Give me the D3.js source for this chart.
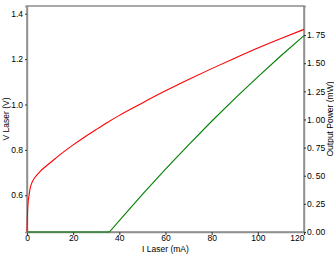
<!DOCTYPE html>
<html>
<head>
<meta charset="utf-8">
<script src="https://cdn.jsdelivr.net/npm/d3@7"></script>
<style>
body{margin:0;background:#fff;}
text{font-family:"Liberation Sans",Arial,sans-serif;font-size:8.5px;fill:#000;}
</style>
</head>
<body>
<svg id="chart" width="334" height="254"></svg>
<script>
// 电流 (mA) 与电压 (V)
var current=[0,0.15,0.4,0.9,1.3,2,3.5,5.7,8.7,12.3,16,20,25,30,35,40,50,60,70,80,90,100,110,120];
var voltage=[0.44,0.50,0.56,0.60,0.627,0.652,0.679,0.705,0.732,0.762,0.792,0.822,0.857,0.890,0.922,0.952,1.007,1.060,1.110,1.158,1.204,1.249,1.291,1.331];
// 电流 (mA) 与输出功率 (mW)
var currentP=[0,35.7,40,50,60,70,80,90,100,110,120];
var power=[0,0,0.102,0.334,0.558,0.775,0.984,1.185,1.379,1.566,1.745];

var xTicks=[0,20,40,60,80,100,120];
var vTicks=[0.6,0.8,1.0,1.2,1.4];
var pTicks=[0,0.25,0.5,0.75,1.0,1.25,1.5,1.75];

var svg=d3.select("#chart");
var p_left=27,p_right=304,p_top=6,p_bottom=232;

var scale_x=d3.scaleLinear().domain([0,120]).range([p_left,p_right]);
var scale_v=d3.scaleLinear().domain([0.438,1.434]).range([p_bottom,p_top]);
var scale_p=d3.scaleLinear().domain([0,2.008]).range([p_bottom,p_top]);

// 边框
svg.append("rect")
    .attr("x",p_left).attr("y",p_top)
    .attr("width",p_right-p_left).attr("height",p_bottom-p_top)
    .attr("fill","none").attr("stroke","#707070").attr("stroke-width",1.2);

// 坐标轴
var xAxis=svg.append("g").attr("transform","translate(0,"+p_bottom+")")
    .call(d3.axisBottom(scale_x).tickValues(xTicks).tickSize(3).tickPadding(1).tickFormat(d3.format("d")));
var vAxis=svg.append("g").attr("transform","translate("+p_left+",0)")
    .call(d3.axisLeft(scale_v).tickValues(vTicks).tickSize(2).tickPadding(2).tickFormat(d3.format(".1f")));
var pAxis=svg.append("g").attr("transform","translate("+p_right+",0)")
    .call(d3.axisRight(scale_p).tickValues(pTicks).tickSize(2).tickPadding(1).tickFormat(function(d){return d3.format(".2f")(d).replace(".",".\u2009");}));

[xAxis,vAxis,pAxis].forEach(function(a){
    a.select(".domain").attr("stroke","#909090").attr("stroke-width",1.4);
    a.selectAll(".tick line").attr("stroke","#333");
    a.selectAll("text").attr("font-family",null).attr("font-size",null).attr("fill","#000");
});
xAxis.selectAll("text").attr("dy","0.6em");
// 最后一个刻度标签靠左
xAxis.selectAll(".tick text").filter(function(d){return d==120;}).attr("text-anchor","end").attr("x",0);
pAxis.selectAll("text").attr("font-size","8px");

// 曲线
var line_v=d3.line().x(function(d,i){return scale_x(current[i]);}).y(function(d){return scale_v(d);}).curve(d3.curveMonotoneX);
var line_p=d3.line().x(function(d,i){return scale_x(currentP[i]);}).y(function(d){return scale_p(d);});

svg.append("path").attr("d",line_p(power))
    .attr("fill","none").attr("stroke","#008000").attr("stroke-width",1.1);
svg.append("path").attr("d",line_v(voltage))
    .attr("fill","none").attr("stroke","#ff0000").attr("stroke-width",1.1);

// 坐标轴标题
svg.append("text").attr("x",(p_left+p_right)/2).attr("y",252)
    .attr("text-anchor","middle").text("I Laser  (mA)");
svg.append("text").attr("transform","translate(9,"+((p_top+p_bottom)/2)+") rotate(-90)")
    .attr("text-anchor","middle").text("V Laser  (V)");
svg.append("text").attr("transform","translate(333,"+((p_top+p_bottom)/2)+") rotate(-90)")
    .attr("text-anchor","middle").text("Output Power  (mW)");
</script>
</body>
</html>
